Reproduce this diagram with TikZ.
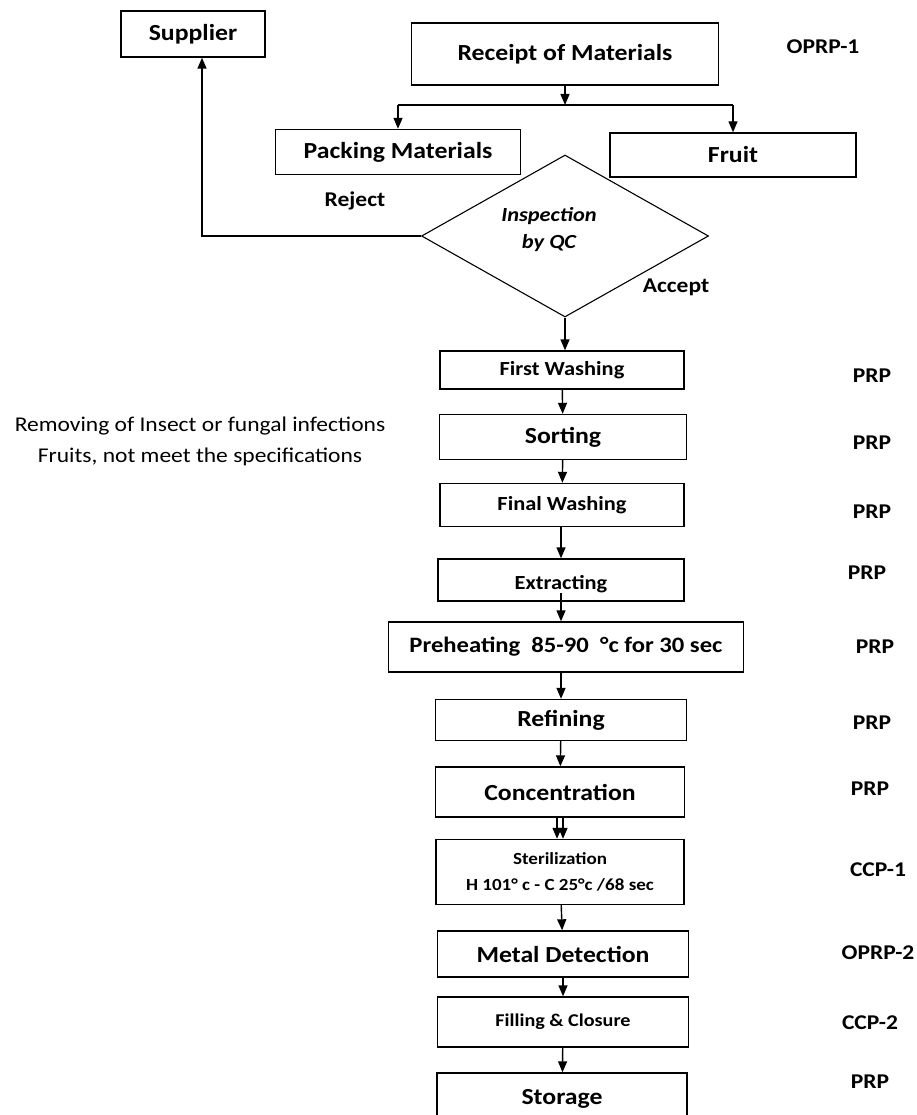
\documentclass[tikz,border=0pt]{standalone}
\usepackage{fontspec}
\setmainfont{Carlito}[FakeStretch=1.12]
\usetikzlibrary{shapes.geometric,arrows.meta,positioning}
\tikzstyle{process} = [draw=black,line width=1.4pt,inner sep=0pt,font=\bfseries\fontsize{23}{27}\selectfont]
\tikzstyle{decision} = [diamond,draw=black,line width=1.1pt,inner sep=0pt,minimum width=287pt,minimum height=162pt]
\tikzstyle{tag} = [font=\bfseries\fontsize{21}{25}\selectfont]
\tikzstyle{arrow} = [line width=1.4pt,-{Triangle[length=11pt,width=9pt]},draw=black]

\begin{document}
\begin{tikzpicture}[x=1pt,y=-1pt]
    \useasboundingbox (0,0) rectangle (916,1115);

    % top part
    \node[process,minimum width=144pt,minimum height=46pt] (sup)   at (193,34)  {Supplier};
    \node[process,minimum width=307pt,minimum height=62pt] (rcpt)  at (565,54)  {Receipt of Materials};
    \node[process,minimum width=245pt,minimum height=45pt] (pack)  at (398,152) {Packing Materials};
    \node[process,minimum width=246pt,minimum height=44pt] (fruit) at (733,155) {Fruit};
    \node[decision] (insp) at (565,236) {};
    \node[tag,font=\bfseries\itshape\fontsize{20}{27}\selectfont,align=center] (insptxt) at (549,230) {Inspection\\by QC};
    \node[tag] (rej) at (355,201) {Reject};
    \node[tag] (acc) at (676,287) {Accept};
    \coordinate (split) at (565,105);

    % process line
    \node[process,minimum width=244pt,minimum height=38pt,font=\bfseries\fontsize{20}{24}\selectfont] (wash1) at (562,370) {First Washing};
    \node[process,minimum width=247pt,minimum height=45pt] (sort)  at (563,437) {Sorting};
    \node[process,minimum width=244pt,minimum height=43pt,font=\bfseries\fontsize{20}{24}\selectfont] (wash2) at (562,505) {Final Washing};
    \node[process,minimum width=246pt,minimum height=42pt,font=\bfseries\fontsize{20}{24}\selectfont,text height=24pt,text depth=5pt] (extr) at (561,580) {Extracting};
    \node[process,minimum width=355pt,minimum height=50pt,font=\bfseries\fontsize{22}{26}\selectfont] (preh) at (566,647) {Preheating\ \ 85-90 \ °c for 30 sec};
    \node[process,minimum width=251pt,minimum height=41pt] (refi)  at (561,720) {Refining};
    \node[process,minimum width=249pt,minimum height=50pt] (conc)  at (560,792) {Concentration};
    \node[process,minimum width=248pt,minimum height=65pt,align=center,font=\bfseries\fontsize{17}{26}\selectfont] (ster) at (560,872) {Sterilization\\H 101° c - C\ 25°c /68 sec};
    \node[process,minimum width=251pt,minimum height=46pt] (metal) at (563,954) {Metal Detection};
    \node[process,minimum width=251pt,minimum height=50pt,font=\bfseries\fontsize{18}{22}\selectfont] (fill) at (563,1022) {Filling \& Closure};
    \node[process,minimum width=250pt,minimum height=80pt,text height=16pt,text depth=34pt] (stor) at (562,1113) {Storage};

    \node[font=\fontsize{21}{31}\selectfont,align=center] (note) at (200,441) {Removing of Insect or fungal infections\\Fruits, not meet the specifications};

    % hazard classes
    \node[tag] (c0)  at (823,47)   {OPRP-1};
    \node[tag] (c1)  at (872,376)  {PRP};
    \node[tag] (c2)  at (872,443)  {PRP};
    \node[tag] (c3)  at (872,512)  {PRP};
    \node[tag] (c4)  at (867,573)  {PRP};
    \node[tag] (c5)  at (875,647)  {PRP};
    \node[tag] (c6)  at (872,723)  {PRP};
    \node[tag] (c7)  at (870,789)  {PRP};
    \node[tag] (c8)  at (878,870)  {CCP-1};
    \node[tag] (c9)  at (878,953)  {OPRP-2};
    \node[tag] (c10) at (870,1023) {CCP-2};
    \node[tag] (c11) at (870,1082) {PRP};

    % connectors
    \draw[arrow] (rcpt) -- (split);
    \draw[line width=1.4pt] (split) -- (split -| pack) (split) -- (split -| fruit);
    \draw[arrow] (split -| pack) -- (pack);
    \draw[arrow] (split -| fruit) -- (fruit);
    \draw[arrow] (insp.west) -| ([xshift=9pt]sup.south);
    \draw[arrow] (insp.south) -- (insp.south |- wash1.north);
    \draw[arrow] (wash1) -- (sort);
    \draw[arrow] (sort) -- (wash2);
    \draw[arrow] (wash2.south -| extr) -- (extr);
    \draw[arrow] ([yshift=-13pt]extr.center) -- (extr.center |- preh.north);
    \draw[arrow] (preh.south -| refi) -- (refi);
    \draw[arrow] (refi) -- (conc);
    \draw[arrow] ([xshift=-3pt]conc.south) -- ([xshift=-3pt]ster.north);
    \draw[arrow] ([xshift=3pt]conc.south) -- ([xshift=3pt]ster.north);
    \draw[arrow] (ster) -- (metal);
    \draw[arrow] (metal) -- (fill);
    \draw[arrow] (fill) -- (stor);
\end{tikzpicture}
\end{document}
